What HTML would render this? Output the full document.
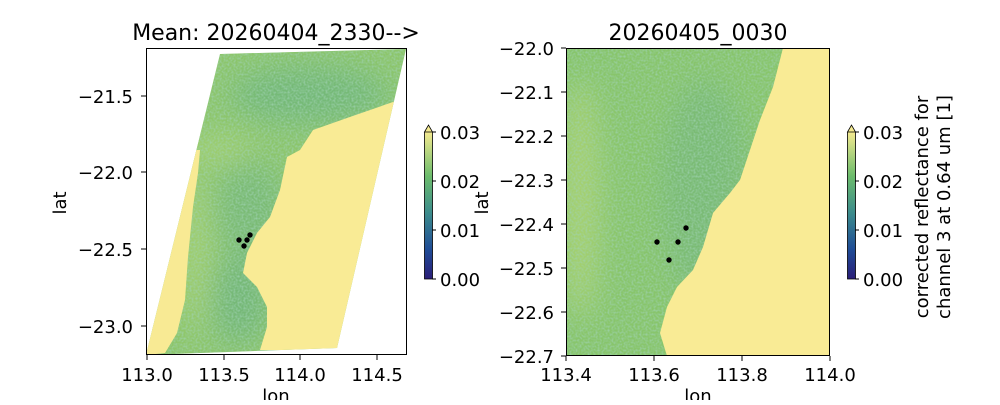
<!DOCTYPE html>
<html><head><meta charset="utf-8"><style>
body{margin:0;background:#fff}
svg text{font-family:"DejaVu Sans","Liberation Sans",sans-serif;fill:#000}
</style></head><body>
<svg width="1000" height="400" viewBox="0 0 1000 400" xmlns="http://www.w3.org/2000/svg">
<defs>
<linearGradient id="cb" x1="0" y1="1" x2="0" y2="0">
<stop offset="0" stop-color="#2a1e78"/><stop offset="0.2" stop-color="#1f4c96"/>
<stop offset="0.45" stop-color="#3c8c8c"/><stop offset="0.7" stop-color="#6cbc6c"/>
<stop offset="1" stop-color="#f4ea90"/></linearGradient>
<filter id="bl" x="-50%" y="-50%" width="200%" height="200%"><feGaussianBlur stdDeviation="14"/></filter>
<filter id="nz" x="0" y="0" width="100%" height="100%">
<feTurbulence type="fractalNoise" baseFrequency="0.5" numOctaves="1" seed="3" result="t"/>
<feColorMatrix in="t" type="matrix" values="0 0 0 0 0.35  0 0 0 0 0.65  0 0 0 0 0.45  0 0 0 1.6 -0.6"/>
</filter>
<clipPath id="sw"><polygon points="220,54 406,49 337,348 146,355"/></clipPath>
<clipPath id="rb"><rect x="566" y="48" width="264" height="308"/></clipPath>
</defs>

<!-- LEFT -->
<g clip-path="url(#sw)">
<rect x="140" y="40" width="280" height="320" fill="#8dc66c"/>
<g filter="url(#bl)">
<ellipse cx="310" cy="95" rx="80" ry="30" fill="#74b978"/>
<ellipse cx="250" cy="210" rx="35" ry="50" fill="#7abb76"/>
<ellipse cx="240" cy="300" rx="30" ry="45" fill="#74b878"/>
<ellipse cx="215" cy="150" rx="40" ry="12" fill="#a6d272"/>
<ellipse cx="195" cy="250" rx="12" ry="80" fill="#a8d272"/>
</g>
<rect x="140" y="40" width="280" height="320" filter="url(#nz)"/>
<polygon fill="#f8ea94" points="146,355 165,353 177,333 185,300 188,257 193,207 198,173 200,150 196,150 140,360"/>
<polygon fill="#f9eb95" points="393,102 347,118 313,130 300,150 287,157 280,190 270,217 257,233 247,253 243,273 257,287 267,307 267,327 260,350 340,350 420,100 420,90"/>
</g>
<rect x="146.5" y="48.5" width="260" height="306" fill="none" stroke="#000"/>
<g fill="#000"><circle cx="239" cy="240" r="2.7"/><circle cx="247" cy="240" r="2.7"/><circle cx="250" cy="235" r="2.7"/><circle cx="244" cy="246" r="2.7"/></g>
<g stroke="#000">
<line x1="147" y1="355" x2="147" y2="360"/><line x1="224" y1="355" x2="224" y2="360"/><line x1="300" y1="355" x2="300" y2="360"/><line x1="377" y1="355" x2="377" y2="360"/>
<line x1="141" y1="96" x2="146" y2="96"/><line x1="141" y1="172" x2="146" y2="172"/><line x1="141" y1="249" x2="146" y2="249"/><line x1="141" y1="326" x2="146" y2="326"/>
</g>
<g font-size="18" text-anchor="middle">
<text x="147" y="381">113.0</text><text x="224" y="381">113.5</text><text x="300" y="381">114.0</text><text x="377" y="381">114.5</text>
<text x="276" y="402">lon</text>
</g>
<g font-size="18" text-anchor="end">
<text x="133" y="103">−21.5</text><text x="133" y="179">−22.0</text><text x="133" y="256">−22.5</text><text x="133" y="333">−23.0</text>
</g>
<text font-size="18" text-anchor="middle" transform="translate(66,203) rotate(-90)">lat</text>
<text font-size="22" x="276" y="40" text-anchor="middle">Mean: 20260404_2330--&gt;</text>
<rect x="424.5" y="132" width="8" height="147" fill="url(#cb)"/>
<polygon points="424.5,132 428.5,125 432.5,132" fill="#f4ea90" stroke="#000" stroke-width="0.8"/>
<path d="M424.5,132 V279 H432.5 V132" fill="none" stroke="#000" stroke-width="0.8"/>
<g stroke="#000"><line x1="432" y1="132" x2="436" y2="132"/><line x1="432" y1="181" x2="436" y2="181"/><line x1="432" y1="230" x2="436" y2="230"/><line x1="432" y1="279" x2="436" y2="279"/></g>
<g font-size="18"><text x="440" y="139">0.03</text><text x="440" y="188">0.02</text><text x="440" y="237">0.01</text><text x="440" y="286">0.00</text></g>

<!-- RIGHT -->
<g clip-path="url(#rb)">
<rect x="566" y="48" width="264" height="308" fill="#88c56c"/>
<g filter="url(#bl)">
<ellipse cx="580" cy="200" rx="20" ry="120" fill="#a8d272"/>
<ellipse cx="705" cy="190" rx="45" ry="110" fill="#7abb74"/>
</g>
<rect x="566" y="48" width="264" height="308" filter="url(#nz)"/>
<polygon fill="#f9eb95" points="783,48 773,87 760,120 750,150 740,180 730,193 713,213 703,247 693,270 677,287 667,307 660,333 667,356 830,356 830,48"/>
</g>
<rect x="566.5" y="48.5" width="263" height="307" fill="none" stroke="#000"/>
<g fill="#000"><circle cx="657" cy="242" r="2.7"/><circle cx="678" cy="242" r="2.7"/><circle cx="686" cy="228" r="2.7"/><circle cx="669" cy="260" r="2.7"/></g>
<g stroke="#000">
<line x1="566" y1="356" x2="566" y2="361"/><line x1="654" y1="356" x2="654" y2="361"/><line x1="742" y1="356" x2="742" y2="361"/><line x1="830" y1="356" x2="830" y2="361"/>
<line x1="561" y1="48" x2="566" y2="48"/><line x1="561" y1="92" x2="566" y2="92"/><line x1="561" y1="136" x2="566" y2="136"/><line x1="561" y1="180" x2="566" y2="180"/><line x1="561" y1="224" x2="566" y2="224"/><line x1="561" y1="268" x2="566" y2="268"/><line x1="561" y1="312" x2="566" y2="312"/><line x1="561" y1="356" x2="566" y2="356"/>
</g>
<g font-size="18" text-anchor="middle">
<text x="566" y="381">113.4</text><text x="654" y="381">113.6</text><text x="742" y="381">113.8</text><text x="830" y="381">114.0</text>
<text x="698" y="402">lon</text>
</g>
<g font-size="18" text-anchor="end">
<text x="554" y="55">−22.0</text><text x="554" y="99">−22.1</text><text x="554" y="143">−22.2</text><text x="554" y="187">−22.3</text><text x="554" y="231">−22.4</text><text x="554" y="275">−22.5</text><text x="554" y="319">−22.6</text><text x="554" y="363">−22.7</text>
</g>
<text font-size="18" text-anchor="middle" transform="translate(488,203) rotate(-90)">lat</text>
<text font-size="22" x="698" y="40" text-anchor="middle">20260405_0030</text>
<rect x="847.5" y="132" width="8" height="147" fill="url(#cb)"/>
<polygon points="847.5,132 851.5,125 855.5,132" fill="#f4ea90" stroke="#000" stroke-width="0.8"/>
<path d="M847.5,132 V279 H855.5 V132" fill="none" stroke="#000" stroke-width="0.8"/>
<g stroke="#000"><line x1="855" y1="132" x2="859" y2="132"/><line x1="855" y1="181" x2="859" y2="181"/><line x1="855" y1="230" x2="859" y2="230"/><line x1="855" y1="279" x2="859" y2="279"/></g>
<g font-size="18"><text x="863" y="139">0.03</text><text x="863" y="188">0.02</text><text x="863" y="237">0.01</text><text x="863" y="286">0.00</text></g>
<g font-size="18" text-anchor="middle">
<text transform="translate(928,207) rotate(-90)">corrected reflectance for</text>
<text transform="translate(950,207) rotate(-90)">channel 3 at 0.64 um [1]</text>
</g>
</svg>
</body></html>
